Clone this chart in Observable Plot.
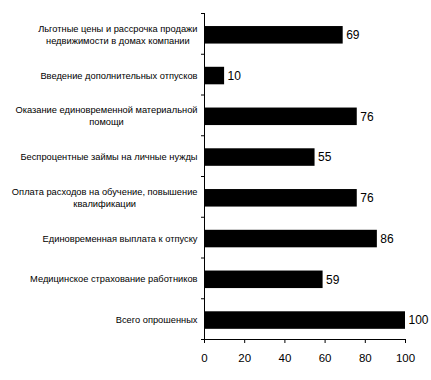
<!DOCTYPE html>
<html>
<head>
<meta charset="utf-8">
<script src="https://cdn.jsdelivr.net/npm/d3@7"></script>
<script src="https://cdn.jsdelivr.net/npm/@observablehq/plot@0.6"></script>
<style>
  html, body { margin: 0; padding: 0; background: #fff; }
  svg { display: block; }
</style>
</head>
<body>
<div id="chart"></div>
<script>
const categories = [
  "Льготные цены и рассрочка продажи\nнедвижимости в домах компании",
  "Введение дополнительных отпусков",
  "Оказание единовременной материальной\nпомощи",
  "Беспроцентные займы на личные нужды",
  "Оплата расходов на обучение, повышение\nквалификации",
  "Единовременная выплата к отпуску",
  "Медицинское страхование работников",
  "Всего опрошенных"
];
const values = [69, 10, 76, 55, 76, 86, 59, 100];
const xTicks = [0, 20, 40, 60, 80, 100];

const data = categories.map((c, i) => ({category: c, value: values[i], i}));
const n = categories.length;

const chart = Plot.plot({
  width: 431,
  height: 380,
  marginLeft: 204,
  marginRight: 26,
  marginTop: 13,
  marginBottom: 41,
  style: {fontFamily: "'Liberation Sans', Arial, sans-serif", background: "#fff", color: "#000"},
  x: {domain: [0, 100], label: null},
  y: {domain: [n, 0], label: null},
  marks: [
    Plot.rectX(data, {x1: 0, x2: "value", y1: d => d.i + 0.32, y2: d => d.i + 0.75, fill: "#000"}),
    Plot.ruleX([0], {stroke: "#000"}),
    Plot.ruleY([n], {stroke: "#000"}),
    Plot.axisY({ticks: d3.range(0, n + 1), tickFormat: () => "", tickSize: 3, stroke: "#000", label: null}),
    Plot.axisX({ticks: xTicks, tickSize: 4, tickPadding: 10, fontSize: 11.5, stroke: "#000", fill: "#000", label: null}),
    Plot.text(data, {x: 0, y: d => d.i + 0.5, text: "category", textAnchor: "end", dx: -7, fontSize: 9.3, lineHeight: 1.3, fill: "#000"}),
    Plot.text(data, {x: "value", y: d => d.i + 0.535, text: d => String(d.value), textAnchor: "start", dx: 3, fontSize: 12, fill: "#000"})
  ]
});
document.getElementById("chart").appendChild(chart);

// Center multi-line category labels within their block (block stays right-aligned)
chart.querySelectorAll("text").forEach(t => {
  const spans = t.querySelectorAll("tspan");
  if (spans.length > 1) {
    const w = t.getBBox().width;
    t.setAttribute("text-anchor", "middle");
    spans.forEach(s => s.setAttribute("x", -w / 2));
  }
});
</script>
</body>
</html>
